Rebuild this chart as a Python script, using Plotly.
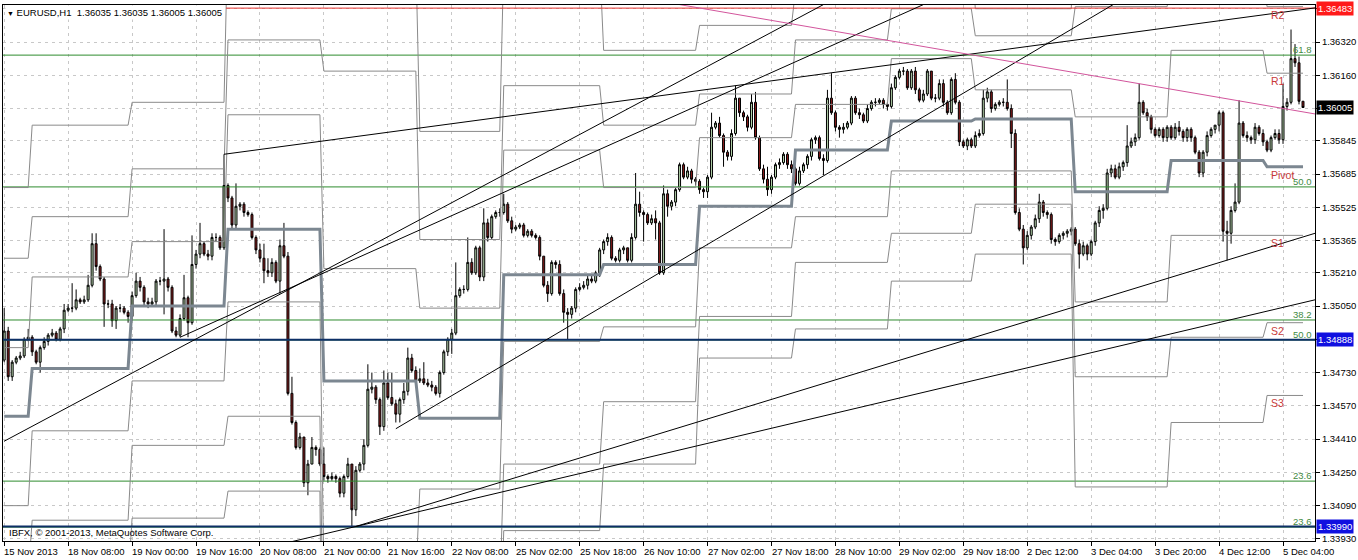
import plotly.graph_objects as go

# ---------------- data (EURUSD H1, bar index 0 = first visible bar) ----------------
bar_open = [
1.3479,1.3493,1.3471,1.3478,1.3480,1.3481,1.3489,1.3490,1.3483,1.3478,
1.3485,1.3488,1.3491,1.3492,1.3489,1.3494,1.3503,1.3504,1.3504,1.3508,
1.3507,1.3508,1.3515,1.3535,1.3524,1.3518,1.3506,1.3506,1.3498,1.3504,
1.3504,1.3502,1.3500,1.3510,1.3517,1.3514,1.3507,1.3506,1.3507,1.3517,
1.3517,1.3518,1.3514,1.3493,1.3491,1.3499,1.3509,1.3497,1.3525,1.3530,
1.3535,1.3530,1.3529,1.3538,1.3538,1.3533,1.3563,1.3557,1.3544,1.3553,
1.3554,1.3550,1.3549,1.3538,1.3532,1.3528,1.3522,1.3521,1.3526,1.3517,
1.3534,1.3529,1.3463,1.3449,1.3437,1.3442,1.3420,1.3429,1.3437,1.3436,
1.3429,1.3423,1.3422,1.3423,1.3422,1.3415,1.3423,1.3429,1.3407,1.3426,
1.3429,1.3438,1.3465,1.3466,1.3460,1.3447,1.3468,1.3461,1.3458,1.3453,
1.3460,1.3464,1.3480,1.3474,1.3469,1.3470,1.3468,1.3467,1.3466,1.3463,
1.3473,1.3483,1.3489,1.3492,1.3510,1.3513,1.3513,1.3526,1.3521,1.3533,
1.3519,1.3545,1.3538,1.3548,1.3550,1.3550,1.3554,1.3546,1.3542,1.3543,
1.3544,1.3539,1.3541,1.3539,1.3538,1.3529,1.3515,1.3511,1.3526,1.3525,
1.3511,1.3502,1.3501,1.3504,1.3513,1.3514,1.3515,1.3518,1.3517,1.3521,
1.3532,1.3536,1.3538,1.3528,1.3527,1.3532,1.3533,1.3527,1.3538,1.3554,
1.3550,1.3549,1.3545,1.3547,1.3545,1.3521,1.3559,1.3553,1.3555,1.3561,
1.3573,1.3567,1.3570,1.3566,1.3565,1.3561,1.3560,1.3567,1.3591,1.3593,
1.3587,1.3579,1.3577,1.3588,1.3605,1.3598,1.3596,1.3591,1.3603,1.3586,
1.3571,1.3566,1.3561,1.3567,1.3573,1.3574,1.3578,1.3573,1.3571,1.3564,
1.3570,1.3573,1.3577,1.3585,1.3586,1.3576,1.3575,1.3605,1.3598,1.3591,
1.3590,1.3591,1.3593,1.3605,1.3598,1.3597,1.3594,1.3600,1.3603,1.3603,
1.3604,1.3602,1.3601,1.3610,1.3615,1.3618,1.3618,1.3610,1.3618,1.3609,
1.3604,1.3607,1.3618,1.3605,1.3605,1.3612,1.3603,1.3598,1.3614,1.3603,
1.3584,1.3582,1.3585,1.3582,1.3587,1.3588,1.3605,1.3608,1.3600,1.3602,
1.3603,1.3603,1.3600,1.3588,1.3550,1.3542,1.3533,1.3539,1.3543,1.3547,
1.3555,1.3550,1.3549,1.3537,1.3536,1.3539,1.3540,1.3541,1.3542,1.3535,
1.3530,1.3534,1.3530,1.3536,1.3545,1.3551,1.3552,1.3569,1.3571,1.3567,
1.3572,1.3574,1.3582,1.3584,1.3586,1.3603,1.3598,1.3596,1.3590,1.3587,
1.3590,1.3586,1.3591,1.3586,1.3591,1.3589,1.3586,1.3590,1.3586,1.3579,
1.3569,1.3579,1.3587,1.3590,1.3592,1.3598,1.3541,1.3540,1.3551,1.3555,
1.3593,1.3587,1.3586,1.3585,1.3591,1.3588,1.3584,1.3580,1.3586,1.3588,
1.3585,1.3601,1.3603,1.3624,1.3622,1.36035]

bar_high = [
1.3504,1.3495,1.3479,1.3481,1.3483,1.3490,1.3494,1.3491,1.3484,1.3486,
1.3490,1.3492,1.3494,1.3493,1.3495,1.3506,1.3506,1.3516,1.3513,1.3509,
1.3510,1.3520,1.3540,1.3540,1.3525,1.3519,1.3508,1.3508,1.3505,1.3506,
1.3505,1.3503,1.3512,1.3521,1.3519,1.3515,1.3509,1.3509,1.3518,1.3519,
1.3542,1.3519,1.3515,1.3495,1.3501,1.3520,1.3510,1.3539,1.3532,1.3545,
1.3536,1.3532,1.3540,1.3540,1.3539,1.3578,1.3564,1.3558,1.3564,1.3555,
1.3555,1.3551,1.3550,1.3539,1.3535,1.3535,1.3528,1.3528,1.3527,1.3537,
1.3545,1.3531,1.3471,1.3450,1.3444,1.3442,1.3431,1.3442,1.3438,1.3437,
1.3437,1.3424,1.3425,1.3424,1.3423,1.3424,1.3432,1.3429,1.3428,1.3430,
1.3441,1.3477,1.3473,1.3467,1.3461,1.3474,1.3473,1.3473,1.3460,1.3461,
1.3468,1.3485,1.3482,1.3476,1.3475,1.3478,1.3470,1.3469,1.3467,1.3474,
1.3484,1.3490,1.3494,1.3526,1.3514,1.3515,1.3538,1.3528,1.3534,1.3534,
1.3552,1.3547,1.3549,1.3551,1.3552,1.3559,1.3555,1.3548,1.3544,1.3545,
1.3545,1.3542,1.3542,1.3540,1.3539,1.3529,1.3517,1.3527,1.3527,1.3527,
1.3513,1.3504,1.3505,1.3514,1.3516,1.3517,1.3520,1.3520,1.3522,1.3533,
1.3537,1.3540,1.3539,1.3529,1.3533,1.3534,1.3533,1.3540,1.3569,1.3560,
1.3551,1.3550,1.3549,1.3551,1.3546,1.3563,1.3561,1.3556,1.3562,1.3574,
1.3574,1.3572,1.3571,1.3567,1.3566,1.3562,1.3568,1.3598,1.3594,1.3596,
1.3588,1.3580,1.3590,1.3611,1.3605,1.3599,1.3597,1.3607,1.3608,1.3587,
1.3573,1.3572,1.3568,1.3574,1.3576,1.3579,1.3579,1.3575,1.3572,1.3572,
1.3574,1.3578,1.3586,1.3587,1.3587,1.3578,1.3609,1.3617,1.3599,1.3592,
1.3593,1.3594,1.3606,1.3606,1.3600,1.3598,1.3602,1.3604,1.3605,1.3605,
1.3605,1.3603,1.3612,1.3616,1.3619,1.3620,1.3619,1.3619,1.3620,1.3610,
1.3609,1.3619,1.3618,1.3607,1.3614,1.3614,1.3604,1.3615,1.3617,1.3604,
1.3585,1.3586,1.3586,1.3589,1.3590,1.3609,1.3610,1.3609,1.3603,1.3604,
1.3605,1.3614,1.3602,1.3590,1.3552,1.3544,1.3541,1.3544,1.3549,1.3559,
1.3556,1.3551,1.3550,1.3538,1.3540,1.3541,1.3542,1.3543,1.3543,1.3537,
1.3536,1.3535,1.3537,1.3546,1.3553,1.3554,1.3571,1.3573,1.3573,1.3574,
1.3575,1.3592,1.3586,1.3588,1.3612,1.3604,1.3600,1.3597,1.3591,1.3591,
1.3591,1.3592,1.3592,1.3593,1.3594,1.3590,1.3591,1.3591,1.3587,1.3580,
1.3580,1.3589,1.3591,1.3592,1.3599,1.3599,1.3546,1.3553,1.3564,1.3604,
1.3594,1.3589,1.3587,1.3593,1.3592,1.3590,1.3585,1.3587,1.3590,1.3590,
1.3612,1.3605,1.3638,1.3631,1.3625,1.36035]

bar_low = [
1.3478,1.3469,1.3469,1.3477,1.3479,1.3480,1.3488,1.3481,1.3477,1.3473,
1.3484,1.3486,1.3490,1.3488,1.3488,1.3492,1.3502,1.3502,1.3503,1.3506,
1.3506,1.3507,1.3514,1.3522,1.3517,1.3495,1.3504,1.3495,1.3494,1.3502,
1.3501,1.3497,1.3498,1.3509,1.3512,1.3505,1.3504,1.3505,1.3505,1.3515,
1.3501,1.3512,1.3492,1.3490,1.3490,1.3498,1.3490,1.3496,1.3523,1.3528,
1.3529,1.3527,1.3527,1.3536,1.3532,1.3532,1.3555,1.3542,1.3542,1.3551,
1.3548,1.3548,1.3537,1.3530,1.3526,1.3516,1.3519,1.3519,1.3516,1.3511,
1.3528,1.3462,1.3448,1.3436,1.3436,1.3418,1.3414,1.3429,1.3433,1.3428,
1.3421,1.3420,1.3421,1.3420,1.3413,1.3413,1.3422,1.3399,1.3404,1.3425,
1.3426,1.3437,1.3463,1.3458,1.3443,1.3445,1.3460,1.3457,1.3449,1.3449,
1.3458,1.3462,1.3473,1.3468,1.3468,1.3467,1.3466,1.3464,1.3462,1.3461,
1.3472,1.3481,1.3482,1.3491,1.3509,1.3511,1.3512,1.3520,1.3520,1.3517,
1.3517,1.3536,1.3537,1.3547,1.3548,1.3549,1.3545,1.3540,1.3541,1.3542,
1.3538,1.3538,1.3538,1.3537,1.3527,1.3514,1.3507,1.3510,1.3523,1.3510,
1.3497,1.3489,1.3499,1.3502,1.3512,1.3513,1.3513,1.3516,1.3516,1.3519,
1.3530,1.3534,1.3527,1.3526,1.3526,1.3530,1.3526,1.3526,1.3537,1.3548,
1.3536,1.3544,1.3544,1.3537,1.3520,1.3520,1.3548,1.3551,1.3553,1.3560,
1.3566,1.3566,1.3564,1.3563,1.3559,1.3557,1.3557,1.3566,1.3590,1.3586,
1.3572,1.3575,1.3575,1.3587,1.3596,1.3594,1.3589,1.3590,1.3585,1.3570,
1.3564,1.3558,1.3559,1.3566,1.3571,1.3573,1.3571,1.3569,1.3563,1.3563,
1.3569,1.3571,1.3575,1.3583,1.3575,1.3568,1.3574,1.3597,1.3589,1.3586,
1.3588,1.3590,1.3592,1.3597,1.3595,1.3593,1.3593,1.3599,1.3601,1.3602,
1.3600,1.3599,1.3600,1.3609,1.3614,1.3616,1.3609,1.3609,1.3607,1.3603,
1.3603,1.3606,1.3604,1.3603,1.3604,1.3601,1.3597,1.3597,1.3602,1.3582,
1.3581,1.3580,1.3581,1.3581,1.3586,1.3587,1.3603,1.3598,1.3599,1.3601,
1.3601,1.3599,1.3581,1.3549,1.3541,1.3525,1.3532,1.3537,1.3542,1.3545,
1.3548,1.3547,1.3535,1.3534,1.3535,1.3537,1.3538,1.3539,1.3534,1.3523,
1.3529,1.3527,1.3529,1.3534,1.3543,1.3547,1.3551,1.3567,1.3566,1.3566,
1.3570,1.3572,1.3581,1.3582,1.3585,1.3597,1.3594,1.3588,1.3586,1.3586,
1.3584,1.3584,1.3585,1.3585,1.3587,1.3584,1.3584,1.3584,1.3578,1.3567,
1.3567,1.3577,1.3586,1.3588,1.3589,1.3536,1.3527,1.3535,1.3550,1.3554,
1.3586,1.3584,1.3583,1.3583,1.3587,1.3582,1.3579,1.3579,1.3585,1.3583,
1.3583,1.3599,1.3602,1.3620,1.3602,1.36005]

bar_close = [
1.3493,1.3471,1.3478,1.3480,1.3481,1.3489,1.3490,1.3483,1.3478,1.3485,
1.3488,1.3491,1.3492,1.3489,1.3494,1.3503,1.3504,1.3504,1.3508,1.3507,
1.3508,1.3515,1.3535,1.3524,1.3518,1.3506,1.3506,1.3498,1.3504,1.3504,
1.3502,1.3500,1.3510,1.3517,1.3514,1.3507,1.3506,1.3507,1.3517,1.3517,
1.3518,1.3514,1.3493,1.3491,1.3499,1.3509,1.3497,1.3525,1.3530,1.3535,
1.3530,1.3529,1.3538,1.3538,1.3533,1.3563,1.3557,1.3544,1.3553,1.3554,
1.3550,1.3549,1.3538,1.3532,1.3528,1.3522,1.3521,1.3526,1.3517,1.3534,
1.3529,1.3463,1.3449,1.3437,1.3442,1.3420,1.3429,1.3437,1.3436,1.3429,
1.3423,1.3422,1.3423,1.3422,1.3415,1.3423,1.3429,1.3407,1.3426,1.3429,
1.3438,1.3465,1.3466,1.3460,1.3447,1.3468,1.3461,1.3458,1.3453,1.3460,
1.3464,1.3480,1.3474,1.3469,1.3470,1.3468,1.3467,1.3466,1.3463,1.3473,
1.3483,1.3489,1.3492,1.3510,1.3513,1.3513,1.3526,1.3521,1.3533,1.3519,
1.3545,1.3538,1.3548,1.3550,1.3550,1.3554,1.3546,1.3542,1.3543,1.3544,
1.3539,1.3541,1.3539,1.3538,1.3529,1.3515,1.3511,1.3526,1.3525,1.3511,
1.3502,1.3501,1.3504,1.3513,1.3514,1.3515,1.3518,1.3517,1.3521,1.3532,
1.3536,1.3538,1.3528,1.3527,1.3532,1.3533,1.3527,1.3538,1.3554,1.3550,
1.3549,1.3545,1.3547,1.3545,1.3521,1.3559,1.3553,1.3555,1.3561,1.3573,
1.3567,1.3570,1.3566,1.3565,1.3561,1.3560,1.3567,1.3591,1.3593,1.3587,
1.3579,1.3577,1.3588,1.3605,1.3598,1.3596,1.3591,1.3603,1.3586,1.3571,
1.3566,1.3561,1.3567,1.3573,1.3574,1.3578,1.3573,1.3571,1.3564,1.3570,
1.3573,1.3577,1.3585,1.3586,1.3576,1.3575,1.3605,1.3598,1.3591,1.3590,
1.3591,1.3593,1.3605,1.3598,1.3597,1.3594,1.3600,1.3603,1.3603,1.3604,
1.3602,1.3601,1.3610,1.3615,1.3618,1.3618,1.3610,1.3618,1.3609,1.3604,
1.3607,1.3618,1.3605,1.3605,1.3612,1.3603,1.3598,1.3614,1.3603,1.3584,
1.3582,1.3585,1.3582,1.3587,1.3588,1.3605,1.3608,1.3600,1.3602,1.3603,
1.3603,1.3600,1.3588,1.3550,1.3542,1.3533,1.3539,1.3543,1.3547,1.3555,
1.3550,1.3549,1.3537,1.3536,1.3539,1.3540,1.3541,1.3542,1.3535,1.3530,
1.3534,1.3530,1.3536,1.3545,1.3551,1.3552,1.3569,1.3571,1.3567,1.3572,
1.3574,1.3582,1.3584,1.3586,1.3603,1.3598,1.3596,1.3590,1.3587,1.3590,
1.3586,1.3591,1.3586,1.3591,1.3589,1.3586,1.3590,1.3586,1.3579,1.3569,
1.3579,1.3587,1.3590,1.3592,1.3598,1.3541,1.3540,1.3551,1.3555,1.3593,
1.3587,1.3586,1.3585,1.3591,1.3588,1.3584,1.3580,1.3586,1.3588,1.3585,
1.3601,1.3603,1.3624,1.3622,1.36035,1.36005]

# daily pivot levels (one value per trading day), day_start = first bar of each day
day_start = [0, 7, 32, 56, 80, 104, 125, 150, 174, 198, 222, 243, 268, 292, 316]
piv_p  = [1.3452,1.3475,1.3505,1.3542,1.3469,1.3451,1.3520,1.3525,1.3553,1.3580,1.3594,1.3595,1.3560,1.3575,1.3572]
piv_r1 = [1.3485,1.3519,1.3536,1.3597,1.3523,1.3504,1.3580,1.3562,1.3586,1.3602,1.3624,1.3609,1.3596,1.3628,1.3617]
piv_r2 = [1.3528,1.3548,1.3571,1.3633,1.3618,1.3537,1.3611,1.3592,1.3607,1.3633,1.3648,1.3635,1.3649,1.3665,1.3649]
piv_r3 = [1.3562,1.3592,1.3603,1.3688,1.3673,1.3589,1.3671,1.3628,1.3640,1.3657,1.3678,1.3648,1.3685,1.3718,1.3696]
piv_s1 = [1.3409,1.3445,1.3469,1.3507,1.3374,1.3417,1.3488,1.3495,1.3533,1.3548,1.3570,1.3570,1.3507,1.3539,1.3539]
piv_s2 = [1.3375,1.3402,1.3438,1.3452,1.3319,1.3365,1.3429,1.3459,1.3500,1.3526,1.3540,1.3554,1.3471,1.3490,1.3497]
piv_s3 = [1.3332,1.3372,1.3403,1.3416,1.3225,1.3331,1.3397,1.3429,1.3480,1.3494,1.3517,1.3530,1.3418,1.3449,1.3462]

x_label_pos = [0,16,32,48,64,80,96,112,128,144,160,176,192,208,224,240,256,272,288,304,320]
x_label_text = ["15 Nov 2013","18 Nov 08:00","19 Nov 00:00","19 Nov 16:00","20 Nov 08:00",
                "21 Nov 00:00","21 Nov 16:00","22 Nov 08:00","25 Nov 02:00","25 Nov 18:00",
                "26 Nov 10:00","27 Nov 02:00","27 Nov 18:00","28 Nov 10:00","29 Nov 02:00",
                "29 Nov 18:00","2 Dec 12:00","3 Dec 04:00","3 Dec 20:00","4 Dec 12:00","5 Dec 04:00"]

y_tick_vals = [1.36480,1.36320,1.36160,1.36000,1.35845,1.35685,1.35525,1.35365,1.35210,
               1.35050,1.34890,1.34730,1.34570,1.34410,1.34250,1.34090,1.33930]
y_tick_text = ["","1.36320","1.36160","","1.35845","1.35685","1.35525","1.35365","1.35210",
               "1.35050","","1.34730","1.34570","1.34410","1.34250","1.34090","1.33930"]

fib_levels = [1.36257, 1.35623, 1.34983, 1.34887, 1.34208, 1.33987]
fib_text   = ["61.8", "50.0", "38.2", "50.0", "23.6", "23.6"]

blue_levels = [1.34888, 1.33990]
red_level = 1.36483
red_start = 55.5

# trendlines: (x0, x1), (y0, y1)
trend_black = [
    ((55, 328), (1.3578, 1.36484)),
    ((0, 205), (1.3440, 1.3650)),
    ((44, 230), (1.3490, 1.3650)),
    ((98, 277.5), (1.3446, 1.3650)),
    ((70, 328), (1.33908, 1.3508)),
    ((88, 328), (1.3399, 1.3540)),
]
trend_magenta = ((166, 328), (1.3651, 1.35974))

price_tags = [(1.36483, "1.36483", "#ff1a1a"), (1.36005, "1.36005", "#000000"),
              (1.34888, "1.34888", "#1010e0"), (1.33990, "1.33990", "#1010e0")]

level_labels = [("R2", 1.3649), ("R1", 1.3617), ("Pivot", 1.3572),
                ("S1", 1.3539), ("S2", 1.3497), ("S3", 1.3462)]

# ---------------- figure ----------------
n = len(bar_close)
idx = list(range(n))
X0, X1 = -0.3, 328
Y0, Y1 = 1.33920, 1.36498
FONT = "Liberation Sans"


def per_bar(values):
    out = []
    for d, v in enumerate(values):
        end = day_start[d + 1] if d + 1 < len(day_start) else n
        out += [v] * (end - day_start[d])
    return out


fig = go.Figure()

for lv in fib_levels:
    fig.add_trace(go.Scatter(x=[X0, X1], y=[lv, lv], mode="lines",
                             line=dict(color="#2e8b2e", width=1), hoverinfo="skip"))

for lvls in (piv_r3, piv_r2, piv_r1, piv_s1, piv_s2, piv_s3):
    fig.add_trace(go.Scatter(x=idx, y=per_bar(lvls), mode="lines",
                             line=dict(color="#8a8a8a", width=1), hoverinfo="skip"))
fig.add_trace(go.Scatter(x=idx, y=per_bar(piv_p), mode="lines",
                         line=dict(color="#7c8791", width=3), hoverinfo="skip"))

for lv in blue_levels:
    fig.add_trace(go.Scatter(x=[X0, X1], y=[lv, lv], mode="lines",
                             line=dict(color="#0d2f66", width=2), hoverinfo="skip"))
fig.add_trace(go.Scatter(x=[red_start, X1], y=[red_level, red_level], mode="lines",
                         line=dict(color="#e8302c", width=1), hoverinfo="skip"))

fig.add_trace(go.Candlestick(
    x=idx, open=bar_open, high=bar_high, low=bar_low, close=bar_close,
    increasing=dict(line=dict(color="#000000", width=1), fillcolor="#b9d9b0"),
    decreasing=dict(line=dict(color="#000000", width=1), fillcolor="#8a1c1c"),
    whiskerwidth=0, hoverinfo="skip"))

for (xs, ys) in trend_black:
    fig.add_trace(go.Scatter(x=list(xs), y=list(ys), mode="lines",
                             line=dict(color="#000000", width=1), hoverinfo="skip"))
fig.add_trace(go.Scatter(x=list(trend_magenta[0]), y=list(trend_magenta[1]), mode="lines",
                         line=dict(color="#d2559c", width=1), hoverinfo="skip"))

ann = []
for p, t in zip(x_label_pos, x_label_text):
    ann.append(dict(x=p, y=0, xref="x", yref="paper", text=t, showarrow=False,
                    xanchor="left", yanchor="top", yshift=-3, xshift=-2,
                    font=dict(family=FONT, size=9.5, color="#000")))
for lv, t in zip(fib_levels, fib_text):
    ann.append(dict(x=1, y=lv, xref="paper", yref="y", text=t, showarrow=False,
                    xanchor="right", yanchor="bottom", xshift=-1, yshift=-2,
                    font=dict(family=FONT, size=9.5, color="#3f8a3f")))
for t, lv in level_labels:
    ann.append(dict(x=317, y=lv, xref="x", yref="y", text=t, showarrow=False,
                    xanchor="left", yanchor="top", yshift=0, xshift=-2,
                    font=dict(family=FONT, size=10.5, color="#c83a3a")))
for lv, t, c in price_tags:
    ann.append(dict(x=1, y=lv, xref="paper", yref="y", text=t, showarrow=False,
                    xanchor="left", yanchor="middle", xshift=1, bgcolor=c, borderpad=1,
                    font=dict(family=FONT, size=9.5, color="#ffffff")))
ann.append(dict(x=0, y=1, xref="paper", yref="paper",
                text='<span style="font-size:7px">▼</span> EURUSD,H1  1.36035 1.36035 1.36005 1.36005',
                showarrow=False, xanchor="left", yanchor="top", xshift=2, yshift=0,
                bgcolor="#ffffff", font=dict(family=FONT, size=9.5, color="#000")))
ann.append(dict(x=0, y=0, xref="paper", yref="paper",
                text="IBFX, © 2001-2013, MetaQuotes Software Corp.",
                showarrow=False, xanchor="left", yanchor="bottom", xshift=4, yshift=1,
                font=dict(family=FONT, size=9.5, color="#000")))

fig.update_layout(
    width=1358, height=560, margin=dict(l=3, r=43, t=5, b=19, autoexpand=False),
    paper_bgcolor="#ffffff", plot_bgcolor="#ffffff", showlegend=False,
    font=dict(family=FONT, size=9.5, color="#000"),
    annotations=ann, hovermode=False,
)
fig.update_xaxes(range=[X0, X1], tickvals=x_label_pos, showticklabels=False,
                 ticks="outside", ticklen=4, tickcolor="#000",
                 showgrid=True, gridcolor="#c8c8c8", griddash="3px,4px", gridwidth=1,
                 showline=True, linecolor="#000", linewidth=1, mirror=True,
                 zeroline=False, rangeslider_visible=False)
fig.update_yaxes(side="right", range=[Y0, Y1], tickvals=y_tick_vals, ticktext=y_tick_text,
                 ticks="outside", ticklen=4, tickcolor="#000",
                 tickfont=dict(family=FONT, size=9.5, color="#000"),
                 showgrid=True, gridcolor="#c8c8c8", griddash="3px,4px", gridwidth=1,
                 showline=True, linecolor="#000", linewidth=1, mirror=True, zeroline=False)

fig.write_html("out.html", config={"displayModeBar": False},
               post_script="document.body.style.margin='0';document.body.style.padding='0';")
